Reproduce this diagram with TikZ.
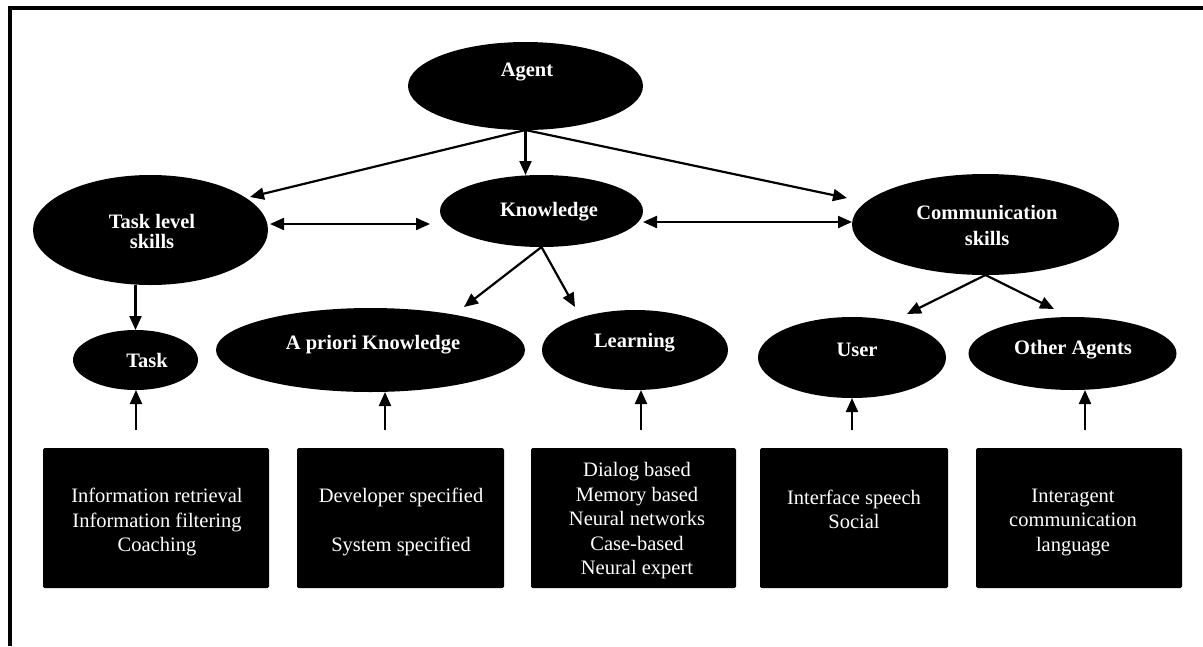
\documentclass[tikz,border=0pt]{standalone}
\usepackage{fontspec}
\setmainfont{Liberation Serif}
\usetikzlibrary{arrows.meta,shapes.geometric}
\begin{document}
\begin{tikzpicture}[x=1pt,y=-1pt,
  oval/.style={ellipse, fill=black, inner sep=0pt, outer sep=0pt},
  card/.style={rectangle, fill=black, rounded corners=1.5pt, inner sep=0pt, outer sep=0pt},
  head/.style={text=white, font=\fontsize{20.5}{23}\selectfont\bfseries, align=center, inner sep=0pt},
  body/.style={text=white, font=\fontsize{20.5}{24.5}\selectfont, align=center, inner sep=0pt},
  tip/.style={-{Triangle[length=14pt,width=12pt]}},
  link/.style={line width=2.2pt, tip},
  dbl/.style={line width=2.2pt, {Triangle[length=14pt,width=12pt]}-{Triangle[length=14pt,width=12pt]}}
]
\useasboundingbox (0,0) rectangle (1203,646);
\fill[white] (0,0) rectangle (1203,646);

% frame (top and left edges)
\draw[line width=4pt] (10.3,646) -- (10.3,8) -- (1203,8);

% ellipses
\node[oval, minimum width=235pt, minimum height=88pt]  (agent)   at (525.5,86)   {};
\node[oval, minimum width=235pt, minimum height=110pt] (tls)     at (150.5,230)  {};
\node[oval, minimum width=203pt, minimum height=72pt]  (know)    at (541.5,211)  {};
\node[oval, minimum width=267pt, minimum height=101pt] (comm)    at (985.5,224.5){};
\node[oval, minimum width=125pt, minimum height=60pt]  (task)    at (135.5,360)  {};
\node[oval, minimum width=309pt, minimum height=84pt]  (apriori) at (370.5,350)  {};
\node[oval, minimum width=186pt, minimum height=80pt]  (learn)   at (635,350)    {};
\node[oval, minimum width=188pt, minimum height=81pt]  (user)    at (852,357.5)  {};
\node[oval, minimum width=208pt, minimum height=73pt]  (other)   at (1072.5,353.5){};

% ellipse labels
\node[head] (agentT)   at (527,72)   {Agent};
\node[head, font=\fontsize{20.5}{20}\selectfont\bfseries] (tlsT) at (152,231) {Task level\\skills};
\node[head] (knowT)    at (549,212)  {Knowledge};
\node[head, font=\fontsize{20.5}{26}\selectfont\bfseries] (commT) at (987,225) {Communication\\skills};
\node[head] (taskT)    at (147,360)  {Task};
\node[head] (aprioriT) at (373,345)  {A priori Knowledge};
\node[head] (learnT)   at (634.5,343){Learning};
\node[head] (userT)    at (857,350)  {User};
\node[head] (otherT)   at (1073,350) {Other Agents};

% boxes
\node[card, minimum width=226pt, minimum height=140pt] (box1) at (156,518)   {};
\node[card, minimum width=207pt, minimum height=140pt] (box2) at (400.5,518) {};
\node[card, minimum width=205pt, minimum height=140pt] (box3) at (633.5,518) {};
\node[card, minimum width=188pt, minimum height=140pt] (box4) at (854,518)   {};
\node[card, minimum width=206pt, minimum height=140pt] (box5) at (1079,518)  {};

% box texts
\node[body] (box1T) at (157,522)   {Information retrieval\\Information filtering\\Coaching};
\node[body] (box2T) at (401,522)   {Developer specified\\[24.5pt]System specified};
\node[body] (box3T) at (637,521)   {Dialog based\\Memory based\\Neural networks\\Case-based\\Neural expert};
\node[body] (box4T) at (854,509.5) {Interface speech\\Social};
\node[body] (box5T) at (1073,522)  {Interagent\\communication\\language};

% arrow end points
\coordinate (a2t) at (250,197);
\coordinate (a2c) at (847,198);
\coordinate (tk1) at (270,224);
\coordinate (tk2) at (430,224);
\coordinate (kc1) at (643,222);
\coordinate (kc2) at (852,222);
\coordinate (k2a) at (464,307);
\coordinate (k2l) at (575,307);
\coordinate (c2u) at (907,314);
\coordinate (c2o) at (1054,309);
\coordinate (s1) at (136,430);
\coordinate (s2) at (385,430);
\coordinate (s3) at (641,430);
\coordinate (s4) at (852,430);
\coordinate (s5) at (1085,430);

% connectors
\draw[link] (agent.south) -- (a2t);
\draw[link] (agent.south) -- (agent.south |- know.north);
\draw[link] (agent.south) -- (a2c);
\draw[dbl] (tk1) -- (tk2);
\draw[dbl] (kc1) -- (kc2);
\draw[link] (task.north |- tls.south) -- (task.north);
\draw[link] (know.south) -- (k2a);
\draw[link] (know.south) -- (k2l);
\draw[link] (comm.south) -- (c2u);
\draw[link] (comm.south) -- (c2o);
\draw[link] (s1) -- (s1 |- task.south);
\draw[link] (s2) -- (s2 |- apriori.south);
\draw[link] (s3) -- (s3 |- learn.south);
\draw[link] (s4) -- (s4 |- user.south);
\draw[link] (s5) -- (s5 |- other.south);
\end{tikzpicture}
\end{document}
